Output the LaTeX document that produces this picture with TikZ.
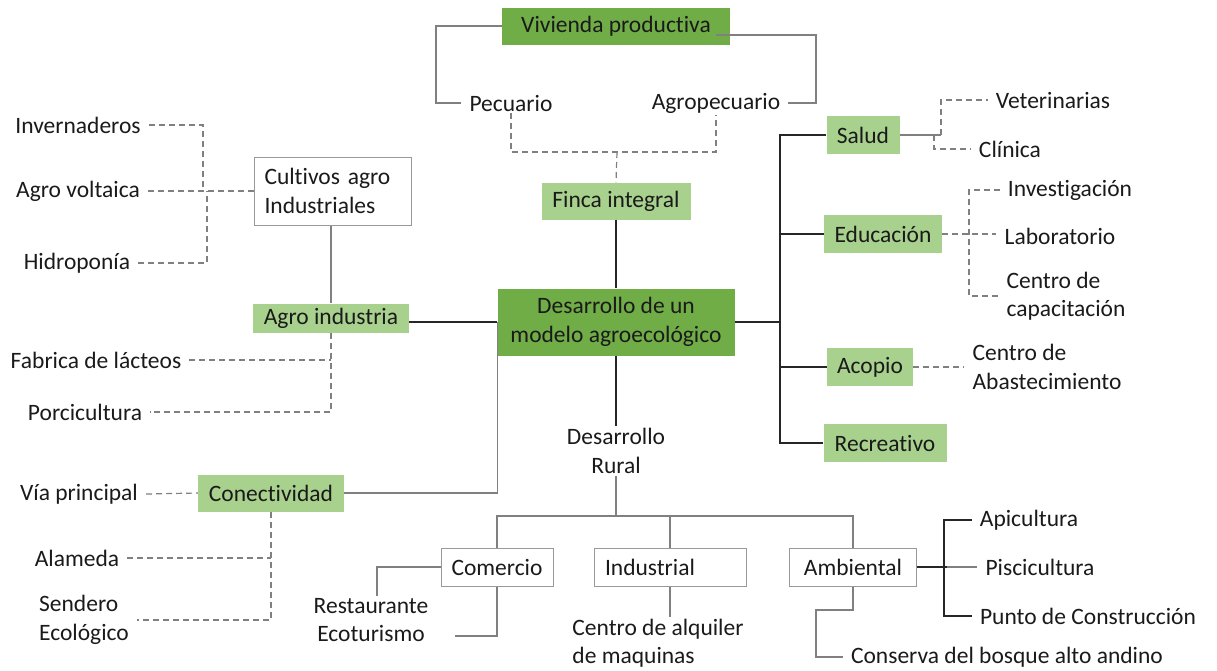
\documentclass[tikz,border=0pt]{standalone}
\usepackage{fontspec}
\setmainfont[Ligatures=NoCommon]{Carlito}
\definecolor{verdeO}{HTML}{70AD47}
\definecolor{verdeC}{HTML}{A9D18E}
\definecolor{gris}{HTML}{808080}
\definecolor{tinta}{HTML}{1A1A1A}

\tikzset{
    oscuro/.style={fill=verdeO, inner sep=0pt, minimum height=37pt},
    claro/.style={fill=verdeC, inner sep=0pt, minimum height=37pt},
    caja/.style={draw=gris!80, line width=1pt, fill=white, inner sep=0pt, minimum height=38pt},
    texto/.style={inner xsep=8pt, inner ysep=2pt},
    negro/.style={draw=black!85, line width=1.6pt},
    fino/.style={draw=gris, line width=1.1pt},
    punteado/.style={draw=gris, line width=1.2pt, dash pattern=on 6pt off 4pt}
}

\begin{document}
\begin{tikzpicture}[x=1pt, y=-1pt, font=\fontsize{23.5}{28.5}\selectfont, text=tinta]
    \useasboundingbox (0,0) rectangle (1217,670);
    % cajas
    \path node[oscuro, minimum width=228pt] (viv) at (616,26) {Vivienda productiva}
        node[oscuro, minimum width=237pt, minimum height=67pt, align=center] (main) at (616,322) {Desarrollo de un\\modelo agroecológico}
        node[claro, minimum width=149pt] (finca) at (616,201) {Finca integral}
        node[claro, minimum width=156pt, minimum height=29pt] (agro) at (331,318) {Agro industria}
        node[claro, minimum width=146pt] (conec) at (271,493) {Conectividad}
        node[claro, minimum width=73pt, minimum height=38pt] (salud) at (863,135) {Salud}
        node[claro, minimum width=118pt, minimum height=38pt] (edu) at (883,234) {Educación}
        node[claro, minimum width=86pt, minimum height=38pt] (acopio) at (870,367) {Acopio}
        node[claro, minimum width=123pt, minimum height=38pt] (recre) at (885,443) {Recreativo}
        node[caja, text width=137pt, inner xsep=10pt, minimum height=68pt, align=left] (cult) at (333,191) {Cultivos agro\\Industriales}
        node[caja, minimum width=112pt] (comer) at (497,567) {Comercio}
        node[caja, text width=130pt, inner xsep=11pt, align=left] (ind) at (670,567) {Industrial}
        node[caja, minimum width=127pt] (amb) at (853,567) {Ambiental};
    % textos sueltos
    \path node[texto] (pec) at (511,103) {Pecuario}
        node[texto] (agp) at (716,103) {Agropecuario}
        node[texto] (inver) at (78,125) {Invernaderos}
        node[texto] (volt) at (78,191) {Agro voltaica}
        node[texto] (hidro) at (77,263) {Hidroponía}
        node[texto] (lact) at (96,360) {Fabrica de lácteos}
        node[texto] (porci) at (85,412) {Porcicultura}
        node[texto] (via) at (79,494) {Vía principal}
        node[texto] (alam) at (77,558) {Alameda}
        node[texto, align=left] (send) at (84,620) {Sendero\\Ecológico}
        node[texto, align=center] (rest) at (371,620) {Restaurante\\Ecoturismo}
        node[texto, align=left] (alq) at (658,643) {Centro de alquiler\\de maquinas}
        node[texto, align=center] (dr) at (616,451) {Desarrollo\\Rural}
        node[texto] (vet) at (1053,100) {Veterinarias}
        node[texto] (cli) at (1010,149) {Clínica}
        node[texto] (invest) at (1070,190) {Investigación}
        node[texto] (lab) at (1060,236) {Laboratorio}
        node[texto, align=left] (cap) at (1066,296) {Centro de\\capacitación}
        node[texto, align=left] (abast) at (1047,367) {Centro de\\Abastecimiento}
        node[texto] (api) at (1029,520) {Apicultura}
        node[texto] (pisc) at (1040,567) {Piscicultura}
        node[texto] (punto) at (1088,616) {Punto de Construcción}
        node[texto] (cons) at (1007,657) {Conserva del bosque alto andino};
    \coordinate (eje) at (780,322);
    \coordinate (rama) at (616,516);
    \coordinate (eco) at (455,636);
    % arriba
    \draw[fino] (viv.west) -| (436,103) -- (pec.west);
    \draw[fino] (716,35) -| (816,103) -- (agp.east);
    \draw[punteado] (pec.south) |- (617,152) -| (agp.south);
    \draw[punteado] (617,152) -- (finca.north);
    \draw[negro] (finca.south) -- (main.north);
    \draw[negro] (main.south) -- (dr.north);
    % izquierda
    \draw[negro] (main.west) -- (main.west -| agro.east);
    \draw[fino] (main.west) |- (conec.east);
    \draw[fino] (agro.north) -- (agro.north |- cult.south);
    \draw[punteado] (cult.west) -- (volt.east);
    \draw[punteado] (inver.east) -| (203,191);
    \draw[punteado] (hidro.east) -| (207,191);
    \draw[punteado] (agro.south) |- (porci.east);
    \draw[punteado] (lact.east) -- (lact.east -| agro.south);
    \draw[punteado] (via.east) -- (conec.west);
    \draw[punteado] (conec.south) |- (send.east);
    \draw[punteado] (alam.east) -- (alam.east -| conec.south);
    % derecha
    \draw[negro] (main.east) -- (eje);
    \draw[negro] (salud.west) -| (780,443) -- (recre.west);
    \draw[negro] (780,234) -- (edu.west);
    \draw[negro] (780,367) -- (acopio.west);
    \draw[fino] (salud.east) -- (941,135);
    \draw[punteado] (941,135) |- (vet.west);
    \draw[punteado] (934,135) |- (cli.west);
    \draw[punteado] (edu.east) -- (edu.east -| lab.west);
    \draw[punteado] (invest.west) -| (969,296) -- (cap.west);
    \draw[punteado] (acopio.east) -- (abast.west);
    % abajo
    \draw[fino] (dr.south) -- (rama);
    \draw[fino] (comer.north) |- (rama) -| (amb.north);
    \draw[fino] (ind.north) -- (ind.north |- rama);
    \draw[fino] (comer.west) -| ([xshift=6pt]rest.north);
    \draw[fino] (comer.south) |- (eco);
    \draw[fino] (ind.south) -- (ind.south |- alq.north);
    \draw[negro] (amb.east) -- (947,567);
    \draw[negro] (api.west) -| (944,616) -- (punto.west);
    \draw[fino] (947,567) -- (pisc.west);
    \draw[fino] (cons.west) -| (816,610) -| (amb.south);
\end{tikzpicture}
\end{document}
